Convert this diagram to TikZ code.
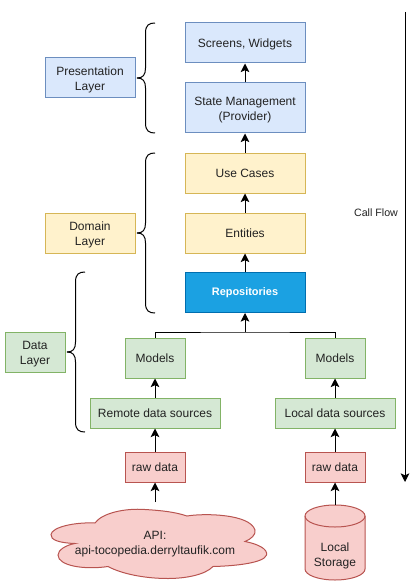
\documentclass[tikz,border=0pt]{standalone}
\usepackage{fontspec}
\setmainfont{Liberation Sans}
\usetikzlibrary{arrows.meta}
\definecolor{blueFill}{HTML}{DAE8FC}
\definecolor{blueLine}{HTML}{6C8EBF}
\definecolor{yellowFill}{HTML}{FFF2CC}
\definecolor{yellowLine}{HTML}{D6B656}
\definecolor{greenFill}{HTML}{D5E8D4}
\definecolor{greenLine}{HTML}{82B366}
\definecolor{redFill}{HTML}{F8CECC}
\definecolor{redLine}{HTML}{B85450}
\definecolor{repoFill}{HTML}{1BA1E2}
\definecolor{repoLine}{HTML}{006EAF}
\definecolor{textGrey}{HTML}{222222}
\newcommand{\lift}{\rule{0pt}{8.7pt}}
\tikzset{
  plainText/.style = {inner sep=0pt, align=center, text=textGrey, font=\fontsize{9pt}{11.2pt}\selectfont},
  box/.style = {plainText, draw, line width=0.75pt},
  blueBox/.style = {box, fill=blueFill, draw=blueLine},
  yellowBox/.style = {box, fill=yellowFill, draw=yellowLine},
  greenBox/.style = {box, fill=greenFill, draw=greenLine},
  redBox/.style = {box, fill=redFill, draw=redLine},
  wide/.style = {minimum width=90pt},
  tall/.style = {minimum height=30pt},
  small/.style = {minimum width=45pt, minimum height=30pt},
  flow/.style = {->, line width=0.75pt},
  curly/.style = {line width=0.75pt},
}
\begin{document}
\begin{tikzpicture}[x=0.75pt, y=-0.75pt, > = {Stealth[length=6.5pt, width=6.5pt, inset=1.5pt]}]
    \useasboundingbox (0, 0) rectangle (419, 588);

    % presentation layer
    \node [blueBox, wide, tall] at (245, 43) (screens) {\rule{0pt}{8pt}Screens, Widgets};
    \node [blueBox, wide, minimum height=37.5pt] at (245, 108) (state) {\lift State Management\\(Provider)};

    % domain layer
    \node [yellowBox, wide, tall] at (245, 173) (usecases) {Use Cases};
    \node [yellowBox, wide, tall] at (245, 233) (entities) {Entities};
    \node [box, wide, tall, fill=repoFill, draw=repoLine, text=white,
           font=\fontsize{8.2pt}{10pt}\selectfont] at (245, 292.5) (repos) {\textbf{Repositories}};

    % data layer, left side
    \node [greenBox, small] at (155, 358) (modelsL) {Models};
    \node [greenBox, minimum width=97.5pt, minimum height=22.5pt] at (155, 413) (remote) {Remote data sources};
    \node [redBox, minimum width=45pt, minimum height=22.5pt] at (155, 467) (rawL) {raw data};

    % data layer, right side
    \node [greenBox, small] at (335, 358) (modelsR) {Models};
    \node [greenBox, minimum width=90pt, minimum height=22.5pt] at (335, 413) (local) {Local data sources};
    \node [redBox, minimum width=45pt, minimum height=22.5pt] at (335, 467) (rawR) {raw data};

    % layer labels
    \node [blueBox, minimum width=67.5pt, tall] at (90, 78) (presentation) {\lift Presentation\\Layer};
    \node [yellowBox, minimum width=67.5pt, tall] at (90, 233) (domain) {\lift Domain\\Layer};
    \node [greenBox, small] at (35, 352) (data) {\lift Data\\Layer};

    % cloud
    \draw [line width=0.75pt, fill=redFill, draw=redLine]
      (95, 523) .. controls (102, 513) and (125, 508) .. (145, 509.5)
      .. controls (162, 510.5) and (175, 512) .. (187, 516)
      .. controls (205, 513) and (250, 514) .. (255, 530)
      .. controls (256, 535) and (251, 539) .. (245, 541.5)
      .. controls (258, 544) and (268, 549) .. (266.5, 555)
      .. controls (264, 563) and (235, 566) .. (213, 566.5)
      .. controls (205, 575) and (185, 578.5) .. (168, 578.5)
      .. controls (145, 578.5) and (122, 574) .. (108, 566.5)
      .. controls (85, 570) and (58, 566) .. (58, 555)
      .. controls (58, 550) and (66, 545) .. (75, 543.5)
      .. controls (60, 543) and (50, 540) .. (51, 534.5)
      .. controls (52, 527) and (75, 522) .. (95, 523) -- cycle;
    \node [plainText] at (155, 544) (api) {API:\\api-tocopedia.derryltaufik.com};
    \coordinate (apiTop) at (155, 502);

    % storage
    \draw [line width=0.75pt, fill=redFill, draw=redLine]
      (305, 516) arc [start angle=180, end angle=0, x radius=30, y radius=-11]
      -- (365, 569) arc [start angle=0, end angle=-180, x radius=30, y radius=-11] -- cycle;
    \draw [line width=0.75pt, draw=redLine]
      (305, 516) arc [start angle=180, end angle=360, x radius=30, y radius=-11];
    \node [plainText] at (335, 555.5) (storage) {Local\\Storage};
    \coordinate (storageTop) at (335, 505);

    % arrows, bottom to top
    \draw [flow] (apiTop) -- (rawL);
    \draw [flow] (rawL) -- (remote);
    \draw [flow] (remote) -- (modelsL);
    \draw [flow] (storageTop) -- (rawR);
    \draw [flow] (rawR) -- (local);
    \draw [flow] (local) -- (modelsR);
    \coordinate (join) at (245, 332);
    \draw [line width=0.75pt] (modelsL.north) |- (join) -| (modelsR.north);
    \draw [flow] (join) -- (repos);
    \draw [flow] (repos) -- (entities);
    \draw [flow] (entities) -- (usecases);
    \draw [flow] (usecases) -- (state);
    \draw [flow] (state) -- (screens);

    % call flow
    \coordinate (flowTop) at (405, 12);
    \coordinate (flowEnd) at (405, 482);
    \draw [flow] (flowTop) -- (flowEnd);
    \node [plainText, font=\fontsize{8pt}{9pt}\selectfont] at (376, 213) (callflow) {Call Flow};

    % braces
    \draw [curly] (155, 23) .. controls (149, 23) and (145.5, 25) .. (145.5, 33) -- (145.5, 68)
      .. controls (145.5, 75) and (143, 78) .. (137, 78) ;
    \draw [curly] (137, 78) .. controls (143, 78) and (145.5, 81) .. (145.5, 88) -- (145.5, 123)
      .. controls (145.5, 131) and (149, 133) .. (155, 133) ;

    \draw [curly] (155, 153) .. controls (149, 153) and (145.5, 155) .. (145.5, 163) -- (145.5, 223)
      .. controls (145.5, 230) and (143, 233) .. (137, 233) ;
    \draw [curly] (137, 233) .. controls (143, 233) and (145.5, 236) .. (145.5, 243) -- (145.5, 303)
      .. controls (145.5, 311) and (149, 313) .. (155, 313) ;

    \draw [curly] (85, 272) .. controls (79, 272) and (75.5, 274) .. (75.5, 282) -- (75.5, 342)
      .. controls (75.5, 349) and (73, 352) .. (67, 352) ;
    \draw [curly] (67, 352) .. controls (73, 352) and (75.5, 355) .. (75.5, 362) -- (75.5, 422)
      .. controls (75.5, 430) and (79, 432) .. (85, 432) ;
\end{tikzpicture}
\end{document}
